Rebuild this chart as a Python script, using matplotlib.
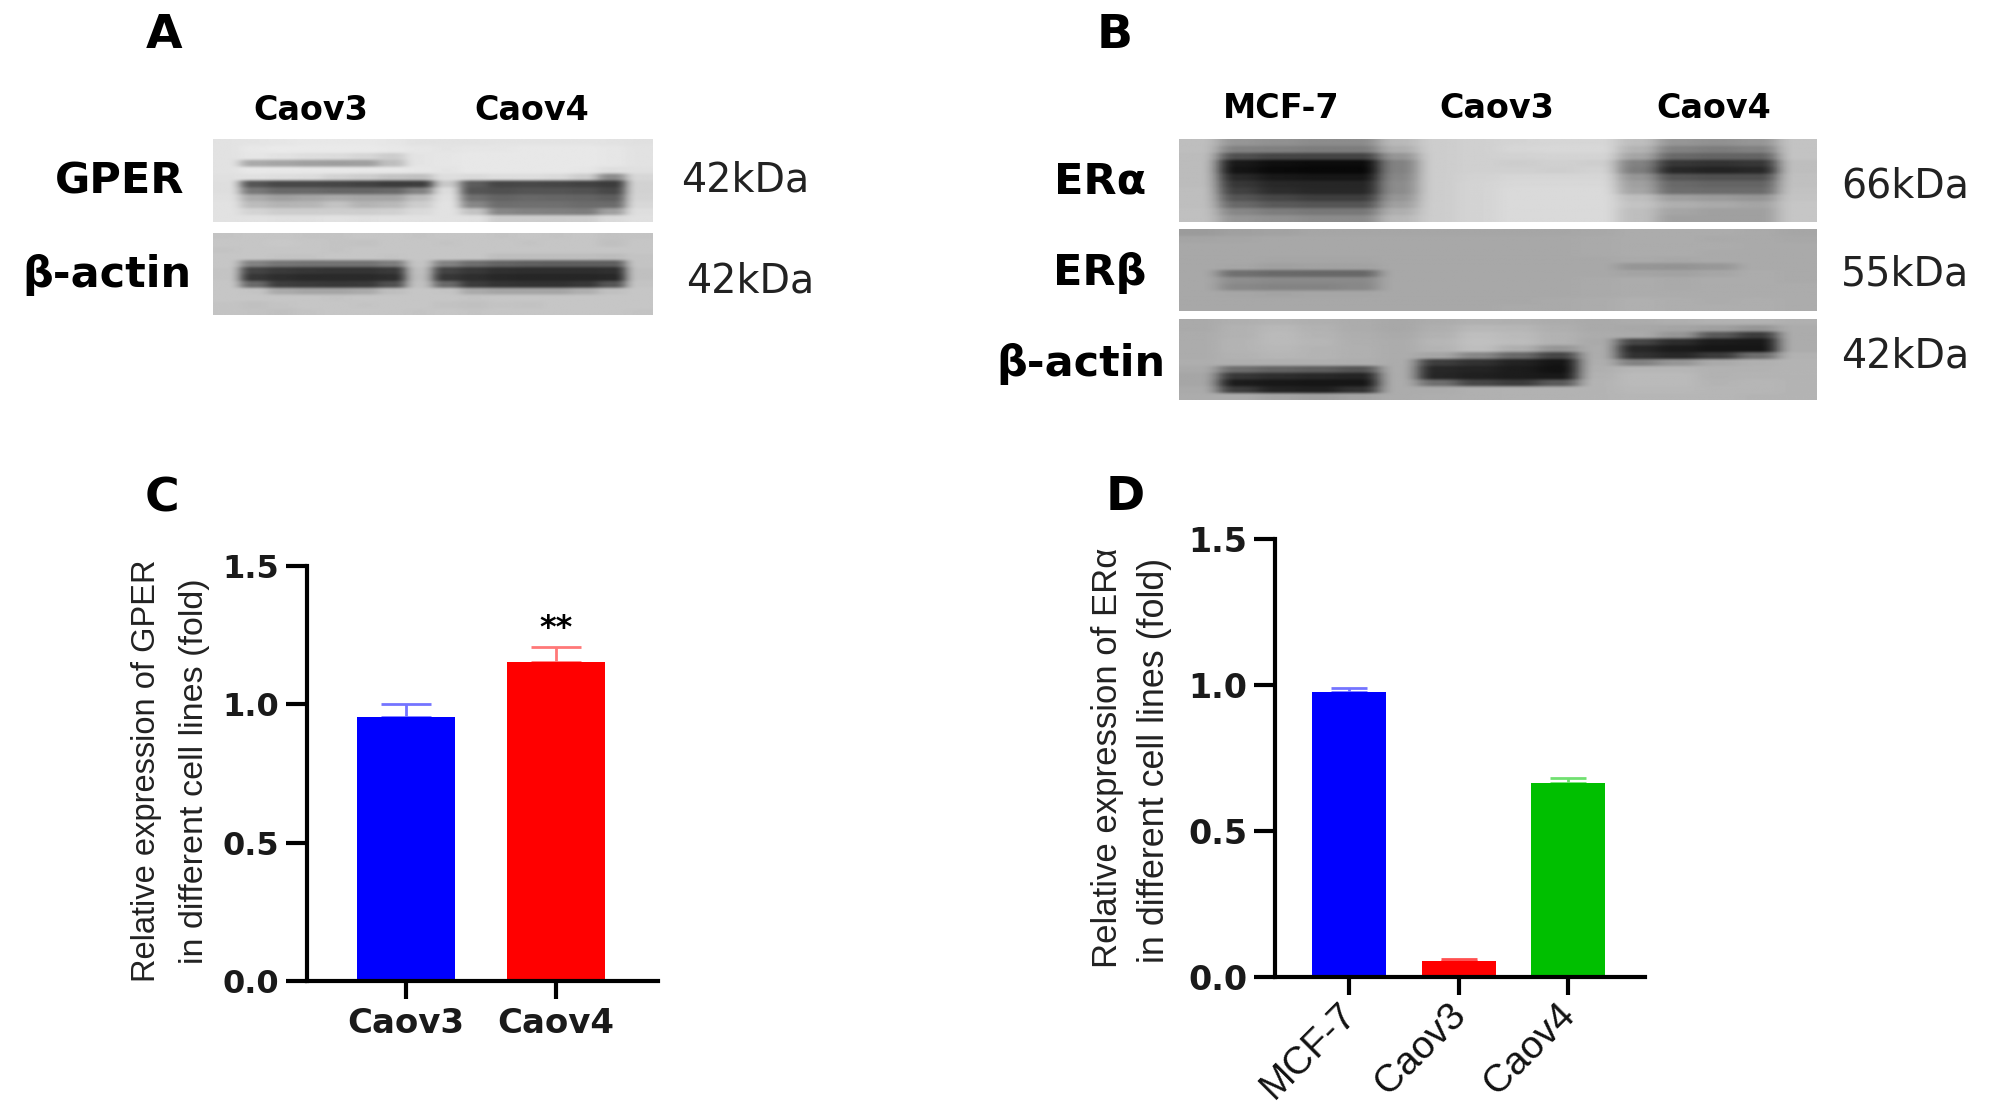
import matplotlib
matplotlib.use("Agg")
import matplotlib.pyplot as plt
from matplotlib.transforms import ScaledTranslation
import numpy as np

W, H = 1999, 1116

# bar data, panel C
c_names = ["Caov3", "Caov4"]
c_values = [0.954, 1.152]
c_errors = [0.048, 0.056]
c_colors = ["#0000ff", "#ff0000"]
c_err_colors = ["#7474ff", "#ff7878"]

# bar data, panel D
d_names = ["MCF-7", "Caov3", "Caov4"]
d_values = [0.977, 0.056, 0.664]
d_errors = [0.013, 0.006, 0.016]
d_colors = ["#0000ff", "#ff0000", "#00bf00"]
d_err_colors = ["#7474ff", "#ff5050", "#70e070"]

# blot grey levels on a coarse grid
gper = [
    [226, 228, 230, 232, 232, 232, 230, 226, 226, 226, 228, 228, 228, 228, 226, 224],
    [226, 232, 234, 234, 234, 234, 232, 230, 228, 230, 230, 232, 232, 232, 230, 226],
    [226, 230, 226, 222, 220, 214, 205, 228, 230, 232, 232, 232, 232, 232, 230, 226],
    [226, 170, 165, 160, 158, 160, 190, 228, 230, 232, 232, 232, 232, 232, 230, 226],
    [226, 232, 232, 232, 232, 232, 232, 230, 228, 232, 232, 232, 232, 230, 222, 224],
    [224, 225, 222, 220, 210, 205, 196, 192, 222, 218, 222, 222, 218, 205, 140, 215],
    [222, 85, 72, 72, 70, 66, 60, 62, 200, 92, 70, 72, 70, 66, 60, 210],
    [222, 120, 105, 105, 102, 102, 105, 130, 220, 85, 80, 84, 84, 82, 72, 210],
    [224, 172, 160, 165, 170, 165, 165, 190, 224, 112, 100, 104, 102, 100, 94, 212],
    [226, 188, 180, 182, 195, 180, 185, 205, 226, 135, 110, 112, 112, 108, 108, 216],
    [226, 212, 205, 205, 206, 205, 208, 218, 226, 195, 135, 130, 128, 125, 160, 222],
    [226, 226, 224, 224, 226, 224, 226, 226, 226, 224, 205, 205, 205, 206, 218, 224],
]
gper_actin = [
    [196, 198, 198, 196, 196, 198, 198, 196, 198, 198, 196, 198, 196, 198, 194, 196],
    [198, 198, 200, 198, 196, 194, 198, 198, 196, 198, 198, 196, 198, 198, 192, 198],
    [196, 198, 198, 198, 196, 198, 198, 198, 198, 198, 198, 198, 198, 198, 198, 198],
    [198, 198, 196, 196, 198, 198, 196, 198, 198, 198, 190, 190, 190, 190, 188, 196],
    [198, 130, 118, 115, 115, 115, 125, 196, 130, 110, 100, 96, 94, 94, 95, 196],
    [196, 68, 58, 54, 52, 52, 58, 190, 68, 56, 48, 46, 46, 46, 48, 192],
    [196, 55, 46, 42, 42, 42, 46, 188, 55, 46, 40, 38, 38, 38, 40, 192],
    [198, 105, 62, 58, 56, 58, 80, 192, 105, 60, 52, 50, 50, 56, 85, 196],
    [198, 196, 170, 165, 165, 170, 190, 198, 196, 170, 165, 165, 165, 175, 192, 198],
    [198, 198, 198, 198, 196, 198, 198, 198, 198, 196, 198, 198, 198, 198, 198, 198],
    [196, 192, 196, 198, 198, 196, 198, 198, 194, 192, 196, 194, 198, 198, 198, 198],
    [196, 194, 192, 196, 198, 198, 198, 196, 198, 196, 198, 198, 198, 198, 198, 196],
]
era = [
    [190, 150, 145, 140, 140, 185, 205, 208, 212, 214, 214, 190, 150, 145, 150, 195],
    [190, 130, 128, 125, 125, 175, 205, 208, 214, 216, 216, 180, 130, 125, 130, 195],
    [188, 80, 70, 68, 68, 150, 205, 208, 210, 212, 212, 165, 105, 100, 100, 195],
    [188, 25, 15, 12, 12, 130, 205, 208, 205, 208, 206, 130, 55, 50, 55, 190],
    [188, 20, 10, 8, 8, 130, 205, 208, 208, 206, 210, 125, 40, 35, 40, 190],
    [188, 40, 25, 22, 22, 135, 205, 210, 214, 214, 214, 150, 85, 80, 80, 192],
    [188, 55, 40, 38, 38, 140, 205, 212, 216, 216, 216, 160, 105, 100, 100, 192],
    [190, 65, 45, 40, 40, 140, 205, 212, 218, 218, 218, 165, 110, 108, 108, 194],
    [190, 85, 70, 62, 62, 150, 205, 212, 218, 218, 218, 190, 160, 155, 150, 196],
    [190, 105, 90, 85, 85, 160, 205, 212, 218, 218, 218, 195, 175, 170, 165, 198],
    [192, 135, 125, 120, 120, 175, 205, 212, 218, 218, 218, 190, 165, 160, 160, 198],
    [192, 150, 145, 140, 140, 185, 205, 212, 218, 218, 218, 190, 160, 160, 160, 198],
]
erb = [
    [155, 160, 162, 166, 166, 166, 166, 166, 166, 166, 168, 172, 172, 172, 170, 166],
    [165, 166, 168, 168, 168, 168, 168, 168, 168, 168, 170, 172, 172, 170, 170, 168],
    [168, 168, 168, 168, 168, 168, 168, 168, 168, 168, 170, 172, 172, 172, 170, 170],
    [168, 168, 168, 168, 168, 168, 168, 168, 168, 168, 170, 172, 172, 170, 170, 170],
    [168, 168, 166, 166, 166, 168, 168, 168, 168, 168, 168, 170, 168, 170, 170, 170],
    [168, 166, 160, 162, 162, 168, 168, 168, 168, 168, 168, 150, 148, 152, 170, 170],
    [168, 112, 106, 104, 104, 168, 168, 168, 168, 168, 168, 164, 162, 166, 172, 170],
    [168, 142, 138, 138, 138, 168, 168, 168, 168, 168, 170, 172, 170, 172, 172, 170],
    [168, 136, 132, 132, 136, 168, 168, 168, 168, 168, 170, 172, 170, 172, 172, 172],
    [168, 166, 164, 166, 166, 168, 168, 168, 168, 168, 170, 172, 172, 172, 172, 172],
    [168, 168, 168, 168, 168, 168, 168, 168, 168, 170, 172, 176, 174, 172, 174, 172],
    [168, 168, 168, 168, 168, 168, 168, 168, 170, 170, 172, 176, 174, 174, 174, 172],
]
erb_actin = [
    [170, 175, 178, 175, 172, 168, 172, 176, 175, 172, 170, 172, 175, 178, 178, 176],
    [170, 178, 184, 178, 172, 168, 175, 184, 182, 175, 170, 168, 165, 160, 150, 172],
    [172, 178, 186, 180, 174, 170, 178, 190, 186, 178, 172, 170, 150, 90, 60, 172],
    [172, 180, 186, 182, 175, 172, 182, 192, 188, 178, 170, 70, 45, 28, 25, 172],
    [172, 180, 184, 180, 176, 172, 180, 190, 175, 150, 172, 40, 28, 22, 22, 172],
    [172, 178, 182, 180, 176, 172, 165, 135, 105, 70, 172, 50, 40, 60, 110, 178],
    [174, 175, 176, 176, 174, 172, 62, 50, 35, 22, 174, 130, 150, 170, 176, 180],
    [170, 110, 100, 95, 85, 172, 40, 36, 28, 18, 176, 182, 182, 178, 178, 180],
    [166, 55, 46, 40, 36, 172, 38, 32, 28, 25, 178, 186, 186, 178, 180, 180],
    [166, 28, 24, 22, 22, 172, 110, 70, 60, 90, 180, 186, 186, 180, 182, 180],
    [170, 60, 35, 32, 50, 172, 172, 176, 178, 178, 180, 184, 184, 182, 182, 180],
    [172, 172, 165, 160, 165, 172, 174, 176, 178, 178, 180, 182, 182, 182, 180, 180],
]

plt.rcParams["font.family"] = ["DejaVu Sans"]
fig = plt.figure(figsize=(W / 100, H / 100), dpi=100, facecolor="white")


def px_axes(left, top, right, bottom):
    return fig.add_axes([left / W, 1 - bottom / H, (right - left) / W, (bottom - top) / H])


def put(x, y, s, **kw):
    fig.text(x / W, 1 - y / H, s, **kw)


def box_blur(a, size, axis):
    # two passes of a plain box filter, edges padded
    kernel = np.ones(size) / size
    pad = size // 2
    for _ in range(2):
        a = np.apply_along_axis(
            lambda v: np.convolve(np.pad(v, pad, mode="edge"), kernel, mode="valid"), axis, a)
    return a


def blot(grid, left, top, right, bottom):
    ax = px_axes(left, top, right, bottom)
    img = np.repeat(np.repeat(np.array(grid, dtype=float), 7, axis=0), 28, axis=1)
    img = box_blur(box_blur(img, 3, 0), 13, 1)
    ax.imshow(img, cmap="gray", vmin=0, vmax=255, aspect="auto")
    ax.axis("off")


blot(gper, 213, 139, 653, 222)
blot(gper_actin, 213, 233, 653, 315)
blot(era, 1179, 139, 1817, 222)
blot(erb, 1179, 229, 1817, 311)
blot(erb_actin, 1179, 319, 1817, 400)

# panel letters
for x, y, s in [(164, 35, "A"), (1115, 35, "B"), (162, 499, "C"), (1125, 497, "D")]:
    put(x, y, s, fontsize=34, fontweight="bold", ha="center", va="center")

# lane names above the blots
for x, y, s in [(311, 110, "Caov3"), (532, 110, "Caov4"),
                (1281, 108, "MCF-7"), (1497, 108, "Caov3"), (1714, 108, "Caov4")]:
    put(x, y, s, fontsize=24, fontweight="bold", ha="center", va="center")

# protein names
for x, y, s in [(184, 181, "GPER"), (192, 275, "β-actin"),
                (1146, 181, "ERα"), (1146, 273, "ERβ"), (1166, 364, "β-actin")]:
    put(x, y, s, fontsize=31, fontweight="bold", ha="right", va="center")

# sizes
for x, y, s in [(681, 180, "42kDa"), (686, 281, "42kDa"),
                (1841, 187, "66kDa"), (1841, 274, "55kDa"), (1841, 356, "42kDa")]:
    put(x, y, s, fontsize=28.5, color="#222222", ha="left", va="center")


def bars(box, x0, step, width, names, values, errors, colors, err_colors, capsize, tick_size):
    left, top, right, bottom = box
    ax = px_axes(left, top, right, bottom)
    xs = np.arange(len(names))
    for i in xs:
        ax.errorbar(xs[i], values[i], yerr=[[0], [errors[i]]], color=err_colors[i],
                    elinewidth=2, capsize=capsize, capthick=2, zorder=1)
    ax.bar(xs, values, width=width / step, color=colors, zorder=2)
    ax.set_xlim((left - x0) / step, (right - x0) / step)
    ax.set_ylim(0, 1.5)
    ax.set_yticks([0.0, 0.5, 1.0, 1.5])
    ax.set_xticks(xs)
    for side in ["top", "right"]:
        ax.spines[side].set_visible(False)
    for side in ["left", "bottom"]:
        ax.spines[side].set_linewidth(3)
    ax.tick_params(axis="y", length=15, width=3, labelsize=tick_size, pad=5)
    ax.tick_params(axis="x", length=13, width=3, pad=6)
    for lab in ax.get_yticklabels():
        lab.set_fontweight("bold")
        lab.set_color("#1a1a1a")
    return ax


ax_c = bars((307, 566, 658, 981), 406, 150, 98, c_names, c_values, c_errors,
            c_colors, c_err_colors, 18, 23)
ax_c.set_xticklabels(c_names, fontsize=24.5, fontweight="bold", color="#1a1a1a")
ax_c.annotate("**", (1, c_values[1] + c_errors[1]), xytext=(0, 2), textcoords="offset points",
              ha="center", va="bottom", fontsize=23, fontweight="bold")
put(147, 771, "Relative expression of GPER", rotation=90, fontsize=23.5, family="Liberation Sans",
    color="#222222", ha="center", va="center")
put(195, 771, "in different cell lines (fold)", rotation=90, fontsize=24.5, family="Liberation Sans",
    color="#222222", ha="center", va="center")

ax_d = bars((1275, 539, 1645, 977), 1349, 109.5, 74, d_names, d_values, d_errors,
            d_colors, d_err_colors, 13, 24)
ax_d.set_xticklabels(d_names, fontsize=28, family="Liberation Sans", color="#111111",
                     rotation=45, ha="right", rotation_mode="anchor")
nudge = ScaledTranslation(-0.11, 0.07, fig.dpi_scale_trans)
for lab in ax_d.get_xticklabels():
    lab.set_transform(lab.get_transform() + nudge)
put(1107, 758, "Relative expression of ERα", rotation=90, fontsize=25, family="Liberation Sans",
    color="#222222", ha="center", va="center")
put(1155, 760, "in different cell lines (fold)", rotation=90, fontsize=25.8, family="Liberation Sans",
    color="#222222", ha="center", va="center")

fig.savefig("out.png", dpi=100)
